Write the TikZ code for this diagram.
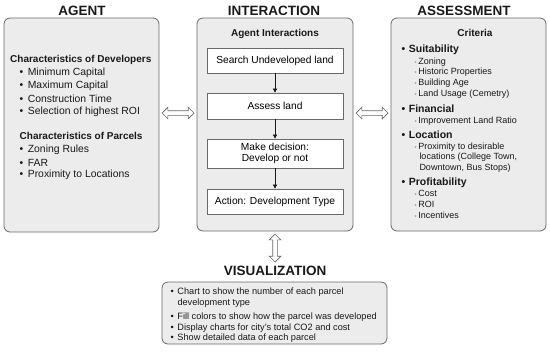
\documentclass[tikz,border=0pt]{standalone}
\usepackage{fontspec}
\setmainfont{Liberation Sans}
\usetikzlibrary{shapes.arrows, arrows.meta, positioning, calc}
\definecolor{panelgray}{RGB}{236,236,236}
\definecolor{edgegray}{RGB}{105,105,105}
\definecolor{textdark}{RGB}{25,25,25}
\definecolor{dotgray}{RGB}{150,150,150}
\newcommand{\bul}[1]{\textbullet\hspace{#1}}
\newcommand{\subbul}{{\color{dotgray}\fontsize{6}{6}\selectfont\textbullet}\hspace{1.5pt}}
\tikzset{
  panel/.style={rectangle, draw=edgegray, fill=panelgray, rounded corners=6pt, line width=0.8pt},
  stepbox/.style={rectangle, draw=edgegray, fill=white, minimum width=136pt,
    line width=0.7pt, align=center, font=\fontsize{10.2}{11.5}\selectfont},
  title/.style={font=\fontsize{13.5}{15}\selectfont\bfseries, text=textdark},
  head/.style={font=\fontsize{10}{12}\selectfont\bfseries, anchor=west, inner sep=0pt, text=textdark},
  crit/.style={font=\fontsize{10.5}{12}\selectfont\bfseries, anchor=west, inner sep=0pt, text=textdark},
  item/.style={font=\fontsize{10.4}{12}\selectfont, anchor=west, inner sep=0pt, text=textdark},
  subitem/.style={font=\fontsize{9}{11}\selectfont, anchor=west, inner sep=0pt, text=textdark},
  visitem/.style={font=\fontsize{9.2}{11}\selectfont, anchor=west, inner sep=0pt, text=textdark},
  flow/.style={-{Triangle[length=4pt,width=4pt]}, draw=textdark, line width=0.6pt},
  link/.style={double arrow, draw=edgegray, fill=white, double arrow head extend=3.5pt,
    minimum height=32pt, inner sep=2pt, line width=0.7pt}
}
\begin{document}
\begin{tikzpicture}[x=1pt, y=-1pt]
  \useasboundingbox (0,0) rectangle (550,357);

  % Panels
  \node[panel, minimum width=155pt, minimum height=214pt] (agent) at (81.5,125) {};
  \node[panel, minimum width=156pt, minimum height=213pt] (inter) at (275,124.5) {};
  \node[panel, minimum width=155pt, minimum height=213pt] (assess) at (468.5,124.5) {};
  \node[panel, minimum width=225pt, minimum height=62pt] (visual) at (274.5,313) {};

  % Titles
  \node[title] (tagent) at (82,11) {AGENT};
  \node[title] (tinter) at (274,11) {INTERACTION};
  \node[title] (tassess) at (464,11) {ASSESSMENT};
  \node[title] (tvisual) at (275,271) {VISUALIZATION};

  % Links between panels
  \node[link] (linkL) at (178,113) {};
  \node[link] (linkR) at (372,113) {};
  \node[link, shape border rotate=90, minimum height=28pt] (linkD) at (275,248) {};

  % Agent
  \node[head] (hdev) at (10,60) {Characteristics of Developers};
  \node[item] (dev1) at (19.5,73) {\bul{4.5pt}Minimum Capital};
  \node[item] (dev2) at (19.5,86) {\bul{4.5pt}Maximum Capital};
  \node[item] (dev3) at (19.5,99) {\bul{4.5pt}Construction Time};
  \node[item] (dev4) at (19.5,112) {\bul{4.5pt}Selection of highest ROI};
  \node[head] (hpar) at (19.5,136) {Characteristics of Parcels};
  \node[item] (par1) at (19.5,150) {\bul{4.5pt}Zoning Rules};
  \node[item] (par2) at (19.5,163) {\bul{4.5pt}FAR};
  \node[item] (par3) at (19.5,175) {\bul{4.5pt}Proximity to Locations};

  % Interaction
  \node[head, anchor=center] (hinter) at (275,34) {Agent Interactions};
  \node[stepbox, minimum height=25pt] (s1) at (275,60.5) {Search Undeveloped land};
  \node[stepbox, minimum height=26pt] (s2) at (275,106) {Assess land};
  \node[stepbox, minimum height=29pt] (s3) at (275,153.5) {Make decision:\\Develop or not};
  \node[stepbox, minimum height=25pt] (s4) at (275,201.5) {Action: Development Type};
  \draw[flow] (s1) -- (s2);
  \draw[flow] (s2) -- (s3);
  \draw[flow] (s3) -- (s4);

  % Assessment
  \node[head, anchor=center] (hcrit) at (475,33) {Criteria};
  \node[crit] (suit) at (401.5,50) {\bul{3.5pt}Suitability};
  \node[subitem] (suit1) at (414.5,62) {\subbul Zoning};
  \node[subitem] (suit2) at (414.5,72.5) {\subbul Historic Properties};
  \node[subitem] (suit3) at (414.5,83) {\subbul Building Age};
  \node[subitem] (suit4) at (414.5,94) {\subbul Land Usage (Cemetry)};
  \node[crit] (fin) at (401.5,109) {\bul{3.5pt}Financial};
  \node[subitem] (fin1) at (414.5,121) {\subbul Improvement Land Ratio};
  \node[crit] (loc) at (401.5,135) {\bul{3.5pt}Location};
  \node[subitem] (loc1) at (414.5,147) {\subbul Proximity to desirable};
  \node[subitem] (loc2) at (419.3,157.5) {locations (College Town,};
  \node[subitem] (loc3) at (419.3,168) {Downtown, Bus Stops)};
  \node[crit] (prof) at (401.5,183) {\bul{3.5pt}Profitability};
  \node[subitem] (prof1) at (414.5,193) {\subbul Cost};
  \node[subitem] (prof2) at (414.5,204) {\subbul ROI};
  \node[subitem] (prof3) at (414.5,215) {\subbul Incentives};

  % Visualization
  \node[visitem] (vis1) at (170.5,292.5) {\bul{3.5pt}Chart to show the number of each parcel};
  \node[visitem] (vis1b) at (177.3,303) {development type};
  \node[visitem] (vis2) at (170.5,317) {\bul{3.5pt}Fill colors to show how the parcel was developed};
  \node[visitem] (vis3) at (170.5,327.7) {\bul{3.5pt}Display charts for city's total CO2 and cost};
  \node[visitem] (vis4) at (170.5,338.3) {\bul{3.5pt}Show detailed data of each parcel};
\end{tikzpicture}
\end{document}
